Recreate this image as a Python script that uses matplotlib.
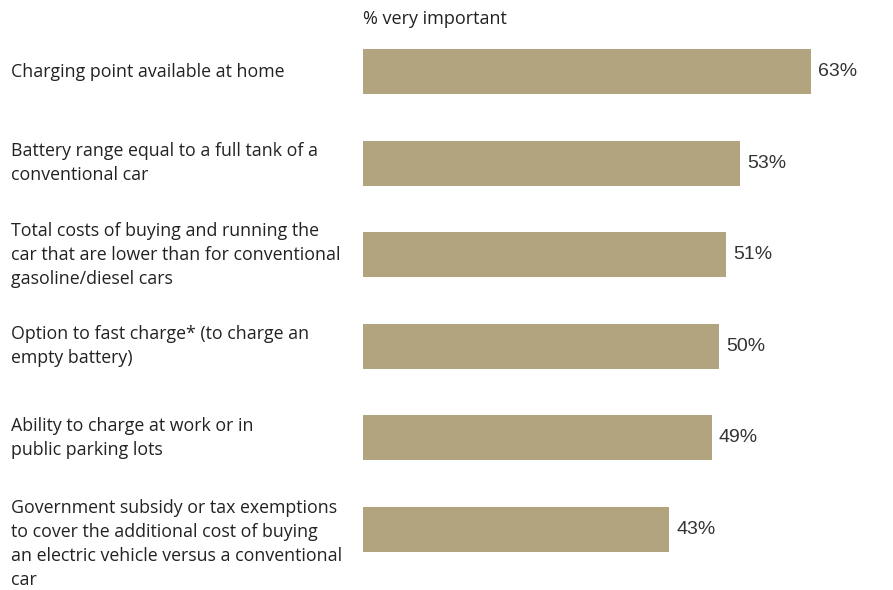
import matplotlib.pyplot as plt
from matplotlib.transforms import blended_transform_factory

labels = [
    "Charging point available at home",
    "Battery range equal to a full tank of a\nconventional car",
    "Total costs of buying and running the\ncar that are lower than for conventional\ngasoline/diesel cars",
    "Option to fast charge* (to charge an\nempty battery)",
    "Ability to charge at work or in\npublic parking lots",
    "Government subsidy or tax exemptions\nto cover the additional cost of buying\nan electric vehicle versus a conventional\ncar",
]
values = [63, 53, 51, 50, 49, 43]

fig = plt.figure(figsize=(8.93, 5.90), dpi=100)
ax = fig.add_axes([363 / 893, 0.0249, 498 / 893, 0.9315])

pos = list(range(len(values)))
ax.barh(pos, values, height=0.49, color="#b1a47e")
ax.set_ylim(len(values) - 0.5, -0.5)
ax.set_xlim(0, 70)
ax.axis("off")

# category labels sit at a fixed figure x, aligned with each bar
lab_tr = blended_transform_factory(fig.transFigure, ax.transData)
for y, v, lab in zip(pos, values, labels):
    ax.text(v + 1.0, y, f"{v}%", va="center", ha="left",
            fontsize=14, family="Liberation Sans", color="#333333")
    # the four-line label hangs a little below its bar
    ly = y + 0.16 if lab.count("\n") > 2 else y
    ax.text(11 / 893, ly, lab, transform=lab_tr,
            va="center", ha="left", fontsize=12.75, family="Open Sans",
            color="#222222", linespacing=1.42)

fig.text(363 / 893, 1 - 19 / 590, "% very important", va="center", ha="left",
         fontsize=13, family="Open Sans", color="#222222")

fig.savefig("out.png", dpi=100)
